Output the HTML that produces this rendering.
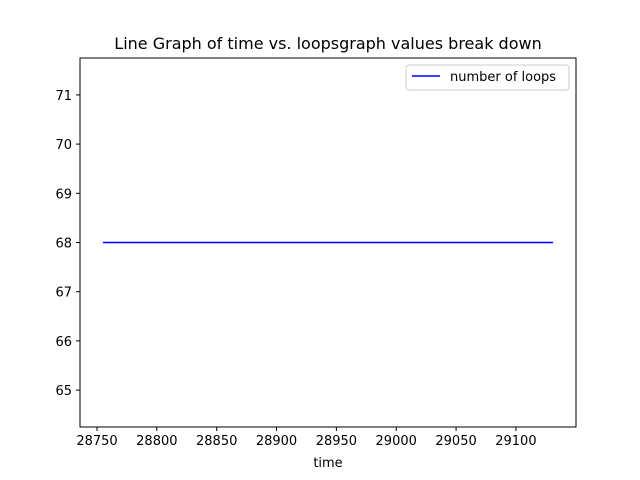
<!DOCTYPE html>
<html><head><meta charset="utf-8"><style>
body{margin:0;background:#fff;}
svg{display:block;font-family:"DejaVu Sans","Liberation Sans",sans-serif;}
</style></head><body>
<svg id="chart" width="640" height="480">
<rect width="640" height="480" fill="#fff"/>
<text x="328" y="49" font-size="16" text-anchor="middle">Line Graph of time vs. loopsgraph values break down</text>
<g id="plot"></g>
<rect x="80" y="58" width="496" height="369" fill="none" stroke="#000" stroke-width="1"/>
<text x="328" y="467" font-size="13" text-anchor="middle">time</text>
<g>
<rect x="406" y="65" width="163" height="25" rx="3" fill="#fff" stroke="#ccc"/>
<line x1="412" y1="76" x2="440" y2="76" stroke="blue" stroke-width="1.6"/>
<text x="450" y="81" font-size="13">number of loops</text>
</g>
</svg>
<script>
const times=[28755,29131];
const loops=[68,68];
const xTicks=[28750,28800,28850,28900,28950,29000,29050,29100];
const yTicks=[65,66,67,68,69,70,71];
const X0=80,X1=576,Y0=427,Y1=58;
const xmin=28735.8,xmax=29150.2,ymin=64.25,ymax=71.75;
function sx(v){return X0+(v-xmin)/(xmax-xmin)*(X1-X0);}
function sy(v){return Y0-(v-ymin)/(ymax-ymin)*(Y0-Y1);}
const NS="http://www.w3.org/2000/svg";
const g=document.getElementById('plot');
function mk(t,a){const e=document.createElementNS(NS,t);for(const k in a)e.setAttribute(k,a[k]);g.appendChild(e);return e;}
xTicks.forEach(v=>{const x=sx(v);
const l=mk('line',{x1:x,x2:x,y1:Y0,y2:Y0+4,stroke:'#000'});


const t=mk('text',{x:x,y:Y0+18,'font-size':13,'text-anchor':'middle'});t.textContent=v;

});
yTicks.forEach(v=>{const y=sy(v);
const l=mk('line',{x1:X0-4,x2:X0,y1:y,y2:y,stroke:'#000'});


const t=mk('text',{x:X0-8,y:y+5,'font-size':13,'text-anchor':'end'});t.textContent=v;

});
const p=mk('polyline',{points:times.map((t,i)=>sx(t)+','+sy(loops[i])).join(' '),fill:'none',stroke:'blue','stroke-width':1.6});


</script>
</body></html>
